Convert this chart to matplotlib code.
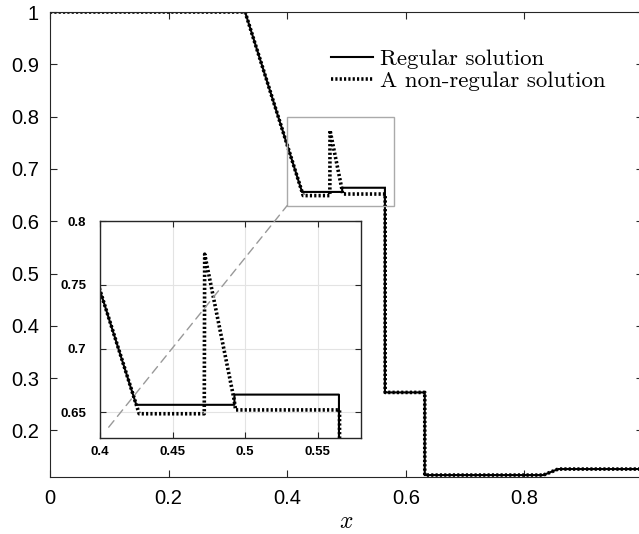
import matplotlib
matplotlib.use("Agg")
import matplotlib.pyplot as plt
from matplotlib.patches import Rectangle, ConnectionPatch

# ---- data ----
reg_x = [0.0, 0.329, 0.425, 0.4927, 0.4927, 0.5648, 0.5648, 0.632, 0.632, 0.832, 0.857, 1.0]
reg_y = [1.0, 1.0, 0.656, 0.656, 0.664, 0.664, 0.2727, 0.2727, 0.1147, 0.1147, 0.1262, 0.1262]

nonreg_x = [0.0, 0.329, 0.427, 0.4719, 0.4722, 0.4925, 0.4935, 0.5652, 0.5652, 0.632, 0.632, 0.832, 0.857, 1.0]
nonreg_y = [1.0, 1.0, 0.649, 0.649, 0.774, 0.660, 0.652, 0.652, 0.2727, 0.2727, 0.1147, 0.1147, 0.1262, 0.1262]

labels = ["Regular solution", "A non-regular solution"]
main_xticks = [0, 0.2, 0.4, 0.6, 0.8, 1.0]
main_xticklabels = ["0", "0.2", "0.4", "0.6", "0.8", "1"]
main_yticks = [0.2, 0.3, 0.4, 0.5, 0.6, 0.7, 0.8, 0.9, 1.0]
main_yticklabels = ["0.2", "0.3", "0.4", "0.5", "0.6", "0.7", "0.8", "0.9", "1"]
ins_xticks = [0.4, 0.45, 0.5, 0.55]
ins_xticklabels = ["0.4", "0.45", "0.5", "0.55"]
ins_yticks = [0.65, 0.7, 0.75, 0.8]
ins_yticklabels = ["0.65", "0.7", "0.75", "0.8"]
zoom_xlim = (0.4, 0.58)
zoom_ylim = (0.63, 0.8)

plt.rcParams["mathtext.fontset"] = "cm"
W, H = 639, 534
fig = plt.figure(figsize=(W / 100, H / 100), dpi=100)

def fx(px):
    return px / W

def fy(py):
    return 1 - py / H

# main axes (right edge slightly outside the figure like the reference)
ax = fig.add_axes([fx(50), fy(477), fx(643) - fx(50), fy(12) - fy(477)])
spine_col = "#262626"
ax.plot(reg_x, reg_y, color="black", lw=1.5, solid_joinstyle="miter", label=labels[0])
ax.plot(nonreg_x, nonreg_y, color="black", lw=2.6, linestyle=(0, (0.6, 0.6)), label=labels[1])
ax.set_xlim(0, 1)
ax.set_ylim(0.111, 1.0)
ax.set_xticks(main_xticks)
ax.set_xticklabels(main_xticklabels)
ax.set_yticks(main_yticks)
ax.set_yticklabels(main_yticklabels)
ax.tick_params(direction="in", length=5, width=0.8, top=True, right=True,
               labelsize=14.5, colors=spine_col)
ax.tick_params(axis="x", pad=9)
ax.tick_params(axis="y", pad=8)
for lab in ax.get_xticklabels() + ax.get_yticklabels():
    lab.set_fontfamily("Liberation Sans")
    lab.set_color("black")
for s in ax.spines.values():
    s.set_color(spine_col)
    s.set_linewidth(0.8)
ax.set_xlabel("$x$", fontsize=17, labelpad=0)

# zoom rectangle
ax.add_patch(Rectangle((zoom_xlim[0], zoom_ylim[0]), zoom_xlim[1] - zoom_xlim[0],
                       zoom_ylim[1] - zoom_ylim[0], fill=False, edgecolor="#aaaaaa", lw=1.0, zorder=5))

leg = ax.legend(loc="upper left", bbox_to_anchor=(fx(331), fy(49)), bbox_transform=fig.transFigure,
                frameon=False, prop={"family": "cmr10", "size": 16.5}, handlelength=1.85,
                handletextpad=0.3, labelspacing=0.1, borderpad=0, borderaxespad=0)

# inset axes
axins = fig.add_axes([fx(100), fy(438), fx(361) - fx(100), fy(221) - fy(438)])
axins.plot(reg_x, reg_y, color="black", lw=1.5)
axins.plot(nonreg_x, nonreg_y, color="black", lw=2.6, linestyle=(0, (0.6, 0.6)))
axins.set_xlim(*zoom_xlim)
axins.set_ylim(*zoom_ylim)
axins.set_xticks(ins_xticks)
axins.set_xticklabels(ins_xticklabels)
axins.set_yticks(ins_yticks)
axins.set_yticklabels(ins_yticklabels)
axins.grid(True, color="#e3e3e3", lw=0.8)
axins.set_axisbelow(True)
axins.tick_params(direction="in", length=4, width=0.8, top=True, right=True,
                  labelsize=9.5, colors=spine_col)
axins.tick_params(axis="x", pad=6)
axins.tick_params(axis="y", pad=10)
for lab in axins.get_xticklabels() + axins.get_yticklabels():
    lab.set_fontfamily("Liberation Sans")
    lab.set_fontweight("bold")
    lab.set_color("black")
for s in axins.spines.values():
    s.set_color(spine_col)
    s.set_linewidth(1.0)

# connector from inset corner to zoom rectangle corner
con = ConnectionPatch(xyA=(zoom_xlim[0], zoom_ylim[0]), coordsA=axins.transData,
                      xyB=(zoom_xlim[0], zoom_ylim[0]), coordsB=ax.transData,
                      color="#999999", lw=1.0, linestyle=(0, (6, 4)), zorder=10,
                      shrinkA=10, shrinkB=0)
fig.add_artist(con)

fig.savefig("out.png", dpi=100)
